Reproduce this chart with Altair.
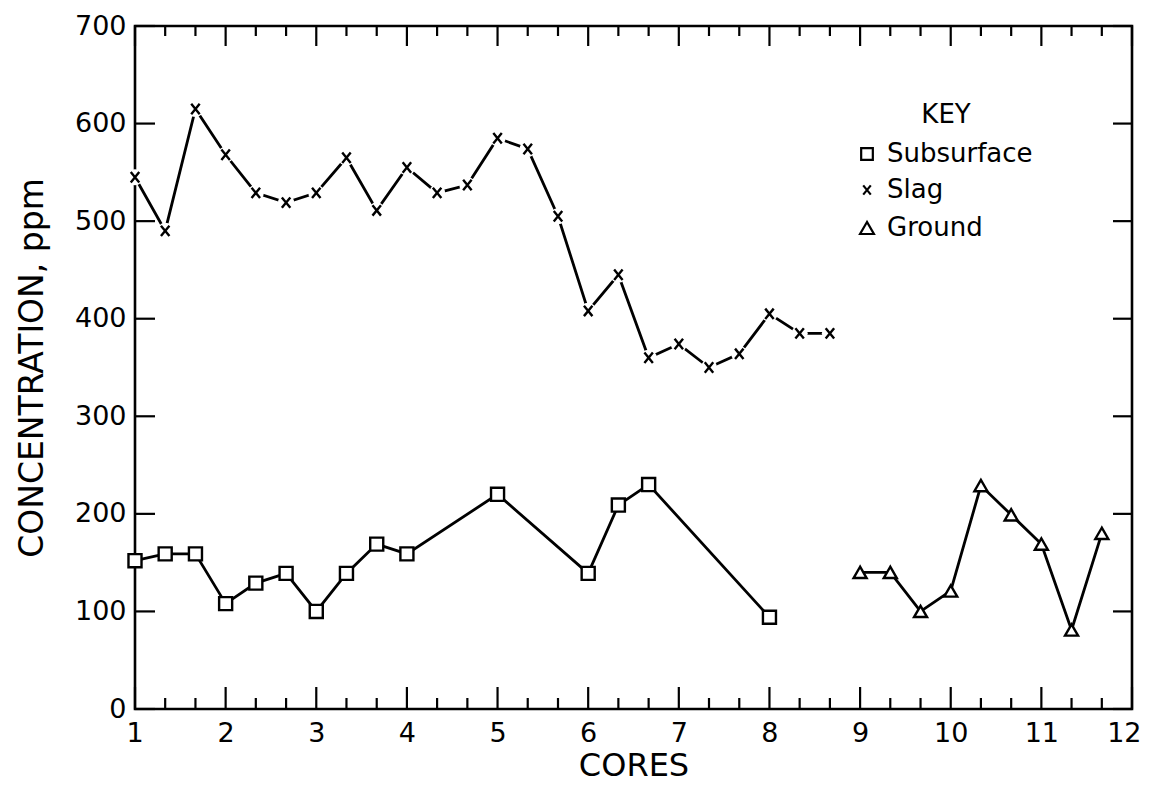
import altair as alt
import pandas as pd

# ---- data ----
slag_x = [1.0, 1.333, 1.667, 2.0, 2.333, 2.667, 3.0, 3.333, 3.667, 4.0, 4.333, 4.667,
          5.0, 5.333, 5.667, 6.0, 6.333, 6.667, 7.0, 7.333, 7.667, 8.0, 8.333, 8.667]
slag_y = [545, 490, 615, 568, 529, 519, 529, 565, 511, 555, 529, 537,
          585, 574, 505, 408, 445, 360, 374, 350, 364, 405, 385, 385]

sub_x = [1.0, 1.333, 1.667, 2.0, 2.333, 2.667, 3.0, 3.333, 3.667, 4.0, 5.0, 6.0, 6.333, 6.667, 8.0]
sub_y = [152, 159, 159, 108, 129, 139, 100, 139, 169, 159, 220, 139, 209, 230, 94]

gnd_x = [9.0, 9.333, 9.667, 10.0, 10.333, 10.667, 11.0, 11.333, 11.667]
gnd_y = [140, 140, 100, 121, 229, 199, 169, 81, 180]

series_names = ["Subsurface", "Slag", "Ground"]
legend_title = "KEY"

major_x = [1, 2, 3, 4, 5, 6, 7, 8, 9, 10, 11, 12]
minor_x = [1.333, 1.667, 2.333, 2.667, 3.333, 3.667, 4.333, 4.667, 5.333, 5.667,
           6.333, 6.667, 7.333, 7.667, 8.333, 8.667, 9.333, 9.667, 10.333, 10.667,
           11.333, 11.667]
y_ticks = [0, 100, 200, 300, 400, 500, 600, 700]

# ---- tables ----
rows = []
for name, xs, ys in [("Subsurface", sub_x, sub_y), ("Slag", slag_x, slag_y), ("Ground", gnd_x, gnd_y)]:
    for a, b in zip(xs, ys):
        rows.append({"series": name, "x": a, "y": b})
df = pd.DataFrame(rows)

W, H = 997, 683
FONT = "DejaVu Sans"

xscale = alt.Scale(domain=[1, 12], nice=False, zero=False)
yscale = alt.Scale(domain=[0, 700], nice=False, zero=True)

xaxis = alt.Axis(values=major_x, format="d", ticks=False, domain=False, grid=False,
                 labelFontSize=27, labelPadding=11, labelFlush=True, labelFlushOffset=9,
                 labelOverlap=False, labelColor="black", title="CORES", titleFontSize=32,
                 titleFontWeight="normal", titlePadding=4, titleColor="black")
yaxis = alt.Axis(values=y_ticks, format="d", ticks=False, domain=False, grid=False,
                 labelFontSize=27, labelPadding=9, labelColor="black", labelOverlap=False,
                 title="CONCENTRATION, ppm", titleFontSize=33, titleFontWeight="normal",
                 titlePadding=25, titleColor="black")

X = alt.X("x:Q", scale=xscale, axis=xaxis)
Y = alt.Y("y:Q", scale=yscale, axis=yaxis)

X_PATH = "M-0.65,-0.8L0.65,0.8M0.65,-0.8L-0.65,0.8"
V_PATH = "M0,-1L0,1"
H_PATH = "M-1,0L1,0"
SHAPES = {"Subsurface": "square", "Slag": X_PATH, "Ground": "triangle-up"}
SIZES = {"Subsurface": 170, "Slag": 170, "Ground": 240}

shape_scale = alt.Scale(domain=series_names, range=[SHAPES[n] for n in series_names])
size_scale = alt.Scale(domain=series_names, range=[SIZES[n] for n in series_names])

lines = alt.Chart(df).mark_line(color="black", strokeWidth=2.8).encode(
    x=X, y=Y, detail="series:N")

# white discs behind the slag crosses break the line around each marker
halos = alt.Chart(df).transform_filter(alt.datum.series == "Slag").mark_point(
    shape="circle", filled=True, fill="white", strokeWidth=0, opacity=1, size=260
).encode(x=X, y=Y)

points = alt.Chart(df).mark_point(filled=False, fill="white", fillOpacity=1, stroke="black",
                                  strokeWidth=2.4, opacity=1).encode(
    x=X, y=Y,
    shape=alt.Shape("series:N", scale=shape_scale, legend=None),
    size=alt.Size("series:N", scale=size_scale, legend=None),
)

# ---- inward tick marks, drawn as line-shaped symbols ----
major_df = pd.DataFrame({"x": major_x})
minor_df = pd.DataFrame({"x": minor_x})
ytick_df = pd.DataFrame({"y": y_ticks})

def tick(data, path, length):
    return alt.Chart(data).mark_point(shape=path, size=length * length, filled=False,
                                      stroke="black", strokeWidth=2.2, opacity=1)

ticks = [
    tick(major_df, V_PATH, 22).encode(x=X, y=alt.value(H - 11)),
    tick(minor_df, V_PATH, 11).encode(x=X, y=alt.value(H - 5.5)),
    tick(major_df, V_PATH, 20).encode(x=X, y=alt.value(10)),
    tick(minor_df, V_PATH, 10).encode(x=X, y=alt.value(5)),
    tick(ytick_df, H_PATH, 20).encode(y=Y, x=alt.value(10)),
    tick(ytick_df, H_PATH, 19).encode(y=Y, x=alt.value(W - 9.5)),
]

# ---- hand-built key ----
KEY_X, KEY_Y = 811, 89
SYM_X, TXT_X = 732, 752
ROW_Y = [128, 164, 202]

key_layers = [
    alt.Chart(pd.DataFrame({"t": [legend_title]})).mark_text(
        fontSize=26, align="center", baseline="middle", color="black").encode(
        x=alt.value(KEY_X), y=alt.value(KEY_Y), text="t:N")
]
for name, ry in zip(series_names, ROW_Y):
    d = pd.DataFrame({"series": [name]})
    key_layers.append(
        alt.Chart(d).mark_point(shape=SHAPES[name], size=SIZES[name] * 0.8, filled=False,
                                fill="white", fillOpacity=1, stroke="black",
                                strokeWidth=2.2, opacity=1).encode(
            x=alt.value(SYM_X), y=alt.value(ry)))
    key_layers.append(
        alt.Chart(d).mark_text(fontSize=26, align="left", baseline="middle",
                               color="black").encode(
            x=alt.value(TXT_X), y=alt.value(ry), text="series:N"))

chart = alt.layer(lines, halos, points, *ticks, *key_layers).properties(
    width=W, height=H,
    autosize=alt.AutoSizeParams(type="none"),
    padding={"left": 127, "top": 18, "right": 11, "bottom": 76},
).configure(font=FONT).configure_view(stroke="black", strokeWidth=2.6)

chart.save("out.html", embed_options={"renderer": "svg", "actions": False})
